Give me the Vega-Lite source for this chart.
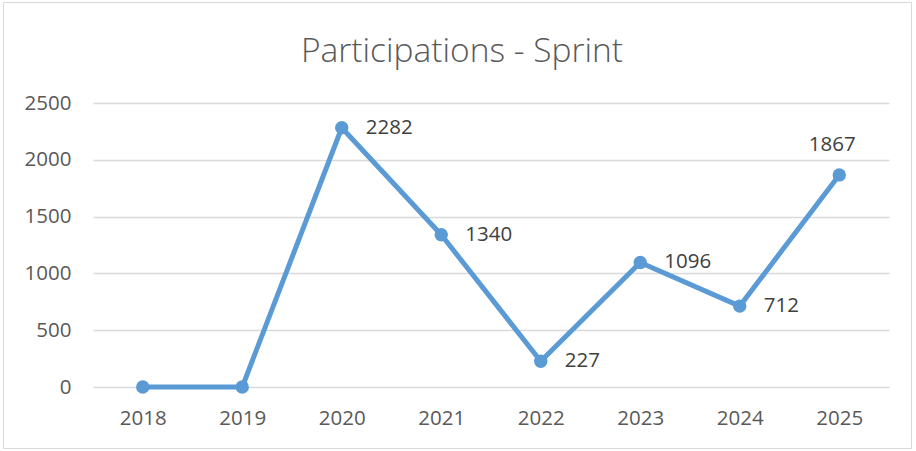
{
  "$schema": "https://vega.github.io/schema/vega-lite/v6.json",
  "width": 796,
  "height": 284,
  "autosize": {"type": "none"},
  "padding": {"left": 93, "top": 103, "right": 27, "bottom": 64},
  "background": "white",
  "title": {
    "text": "Participations - Sprint",
    "font": "Open Sans",
    "fontSize": 33.5,
    "fontWeight": 300,
    "color": "#595959",
    "anchor": "middle",
    "frame": "group",
    "dx": -29,
    "offset": -100,
    "baseline": "bottom"
  },
  "config": {
    "view": {"stroke": null},
    "font": "Open Sans"
  },
  "data": {
    "values": [
      {"year": "2018", "value": 0},
      {"year": "2019", "value": 0},
      {"year": "2020", "value": 2282},
      {"year": "2021", "value": 1340},
      {"year": "2022", "value": 227},
      {"year": "2023", "value": 1096},
      {"year": "2024", "value": 712},
      {"year": "2025", "value": 1867}
    ]
  },
  "layer": [
    {
      "data": {"values": [{"a": 0, "b": 1}]},
      "mark": {"type": "rect", "fill": null, "stroke": "#d9d9d9", "strokeWidth": 1, "clip": false},
      "encoding": {
        "x": {"field": "a", "type": "quantitative", "scale": {"domain": [0, 1], "range": [-89.5, 818.5]}, "axis": null},
        "x2": {"field": "b"},
        "y": {"field": "a", "type": "quantitative", "scale": {"domain": [0, 1], "range": [-100.5, 345.5]}, "axis": null},
        "y2": {"field": "b"}
      }
    },
    {
      "layer": [
        {
          "mark": {"type": "line", "color": "#5B9BD5", "strokeWidth": 5, "strokeCap": "round", "strokeJoin": "round"},
          "encoding": {}
        },
        {
          "mark": {"type": "point", "filled": true, "color": "#5B9BD5", "size": 180, "opacity": 1},
          "encoding": {}
        },
        {
          "transform": [{"filter": "datum.value > 0 && datum.year != '2025'"}],
          "mark": {"type": "text", "align": "left", "baseline": "middle", "dx": 24, "fontSize": 20.5, "color": "#404040", "font": "Open Sans"},
          "encoding": {"text": {"field": "value", "type": "quantitative", "format": "d"}}
        },
        {
          "transform": [{"filter": "datum.year == '2025'"}],
          "mark": {"type": "text", "align": "center", "baseline": "middle", "dx": -7, "dy": -30, "fontSize": 20.5, "color": "#404040", "font": "Open Sans"},
          "encoding": {"text": {"field": "value", "type": "quantitative", "format": "d"}}
        }
      ],
      "encoding": {
        "x": {
          "field": "year",
          "type": "ordinal",
          "scale": {"paddingInner": 0, "paddingOuter": 0},
          "axis": {
            "title": null,
            "labelAngle": 0,
            "labelFont": "Open Sans",
            "labelFontSize": 20.5,
            "labelColor": "#595959",
            "labelPadding": 21,
            "ticks": false,
            "domain": false,
            "grid": false
          }
        },
        "y": {
          "field": "value",
          "type": "quantitative",
          "scale": {"domain": [0, 2500]},
          "axis": {
            "title": null,
            "values": [0, 500, 1000, 1500, 2000, 2500],
            "format": "d",
            "labelFont": "Open Sans",
            "labelFontSize": 20.5,
            "labelColor": "#595959",
            "labelPadding": 22,
            "ticks": false,
            "domain": false,
            "grid": true,
            "gridColor": "#d9d9d9",
            "gridWidth": 1.5
          }
        }
      }
    }
  ],
  "resolve": {"scale": {"x": "independent", "y": "independent"}}
}
